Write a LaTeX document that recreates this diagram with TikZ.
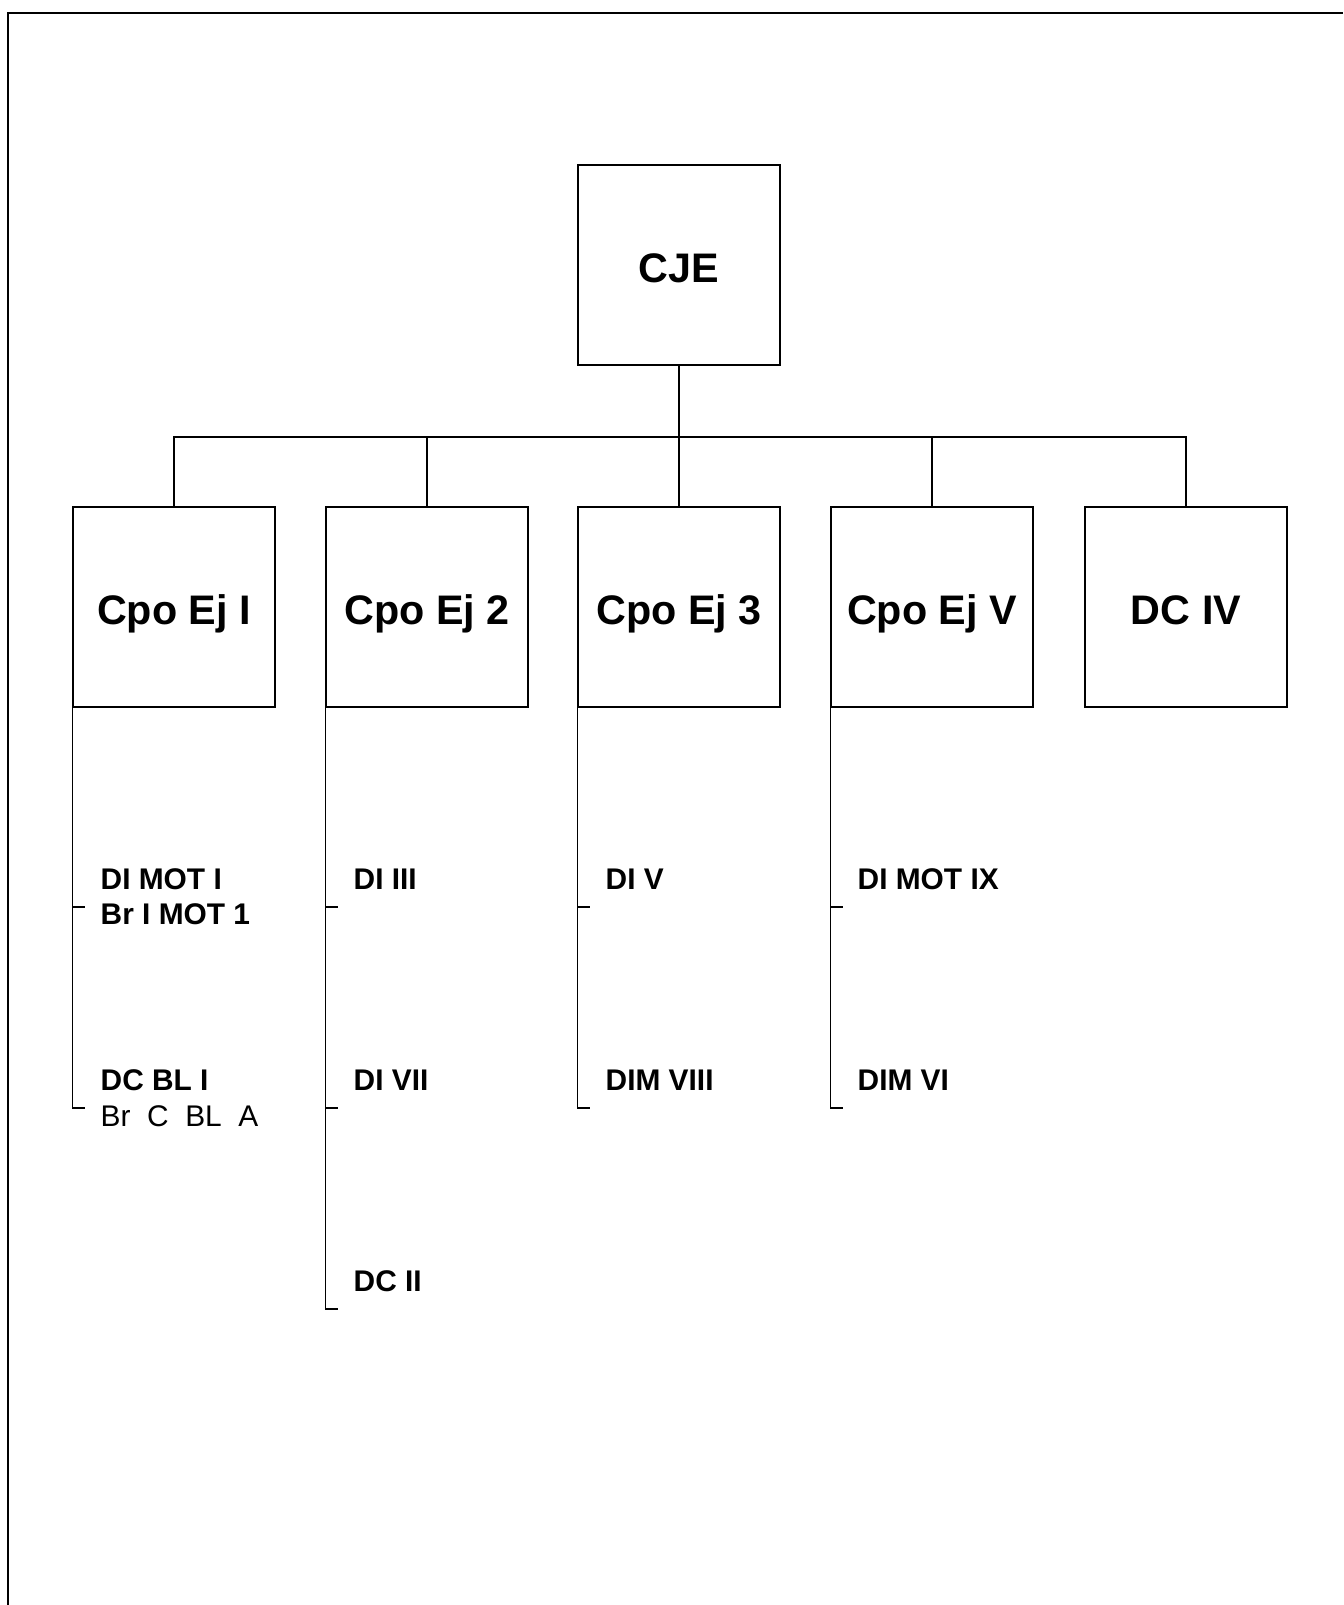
\documentclass[tikz,border=0pt]{standalone}
\usepackage{fontspec}
\setmainfont{Liberation Sans}
\usepackage{tikz}

\tikzset{
  unitbox/.style={draw, line width=0.7pt, minimum width=4.04cm, minimum height=4cm,
    inner sep=0pt, text height=20pt, text depth=0pt,
    font=\fontsize{23.5}{28}\selectfont\bfseries},
  postlbl/.style={anchor=base west, inner sep=0pt, font=\fontsize{17}{20}\selectfont\bfseries},
}

\begin{document}
\begin{tikzpicture}[x=0.02cm, y=-0.02cm, line width=0.8pt]
  \useasboundingbox (0,0) rectangle (1343,1605);
  % page frame
  \draw (8,1605) -- (8,13) -- (1343,13);

  % command boxes
  \node[unitbox] (cje) at (679,265) {CJE};
  \node[unitbox] (cpo1) at (174,607) {Cpo Ej I};
  \node[unitbox] (cpo2) at (427,607) {Cpo Ej 2};
  \node[unitbox] (cpo3) at (679,607) {Cpo Ej 3};
  \node[unitbox] (cpo5) at (932,607) {Cpo Ej V};
  \node[unitbox] (dc4) at (1186,607) {DC IV};

  % bus
  \coordinate (busL) at (174,437);
  \coordinate (busR) at (1186,437);
  \draw (cje.south) -- (cpo3.north);
  \draw (cpo1.north) -- (busL) -- (busR) -- (dc4.north);
  \draw (cpo2.north) -- (cpo2.north |- busL);
  \draw (cpo5.north) -- (cpo5.north |- busL);

  % subordinate units
  \coordinate (t11) at (85,907);
  \coordinate (t12) at (85,1108);
  \draw (cpo1.south west) |- (t12);
  \draw (cpo1.south west |- t11) -- (t11);
  \node[postlbl] (l11) at (100,889) {DI MOT I};
  \node[postlbl] (l11b) at (100,924) {Br I MOT 1};
  \node[postlbl] (l12) at (100,1090) {DC BL I};
  \node[postlbl, font=\fontsize{17}{20}\selectfont] (l12b) at (100,1126) {Br\ \ C\ \ BL\ \ A};

  \coordinate (t21) at (338,907);
  \coordinate (t22) at (338,1108);
  \coordinate (t23) at (338,1309);
  \draw (cpo2.south west) |- (t23);
  \draw (cpo2.south west |- t21) -- (t21);
  \draw (cpo2.south west |- t22) -- (t22);
  \node[postlbl] (l21) at (353,889) {DI III};
  \node[postlbl] (l22) at (353,1090) {DI VII};
  \node[postlbl] (l23) at (353,1291) {DC II};

  \coordinate (t31) at (590,907);
  \coordinate (t32) at (590,1108);
  \draw (cpo3.south west) |- (t32);
  \draw (cpo3.south west |- t31) -- (t31);
  \node[postlbl] (l31) at (605,889) {DI V};
  \node[postlbl] (l32) at (605,1090) {DIM VIII};

  \coordinate (t51) at (843,907);
  \coordinate (t52) at (843,1108);
  \draw (cpo5.south west) |- (t52);
  \draw (cpo5.south west |- t51) -- (t51);
  \node[postlbl] (l51) at (857,889) {DI MOT IX};
  \node[postlbl] (l52) at (857,1090) {DIM VI};
\end{tikzpicture}
\end{document}
